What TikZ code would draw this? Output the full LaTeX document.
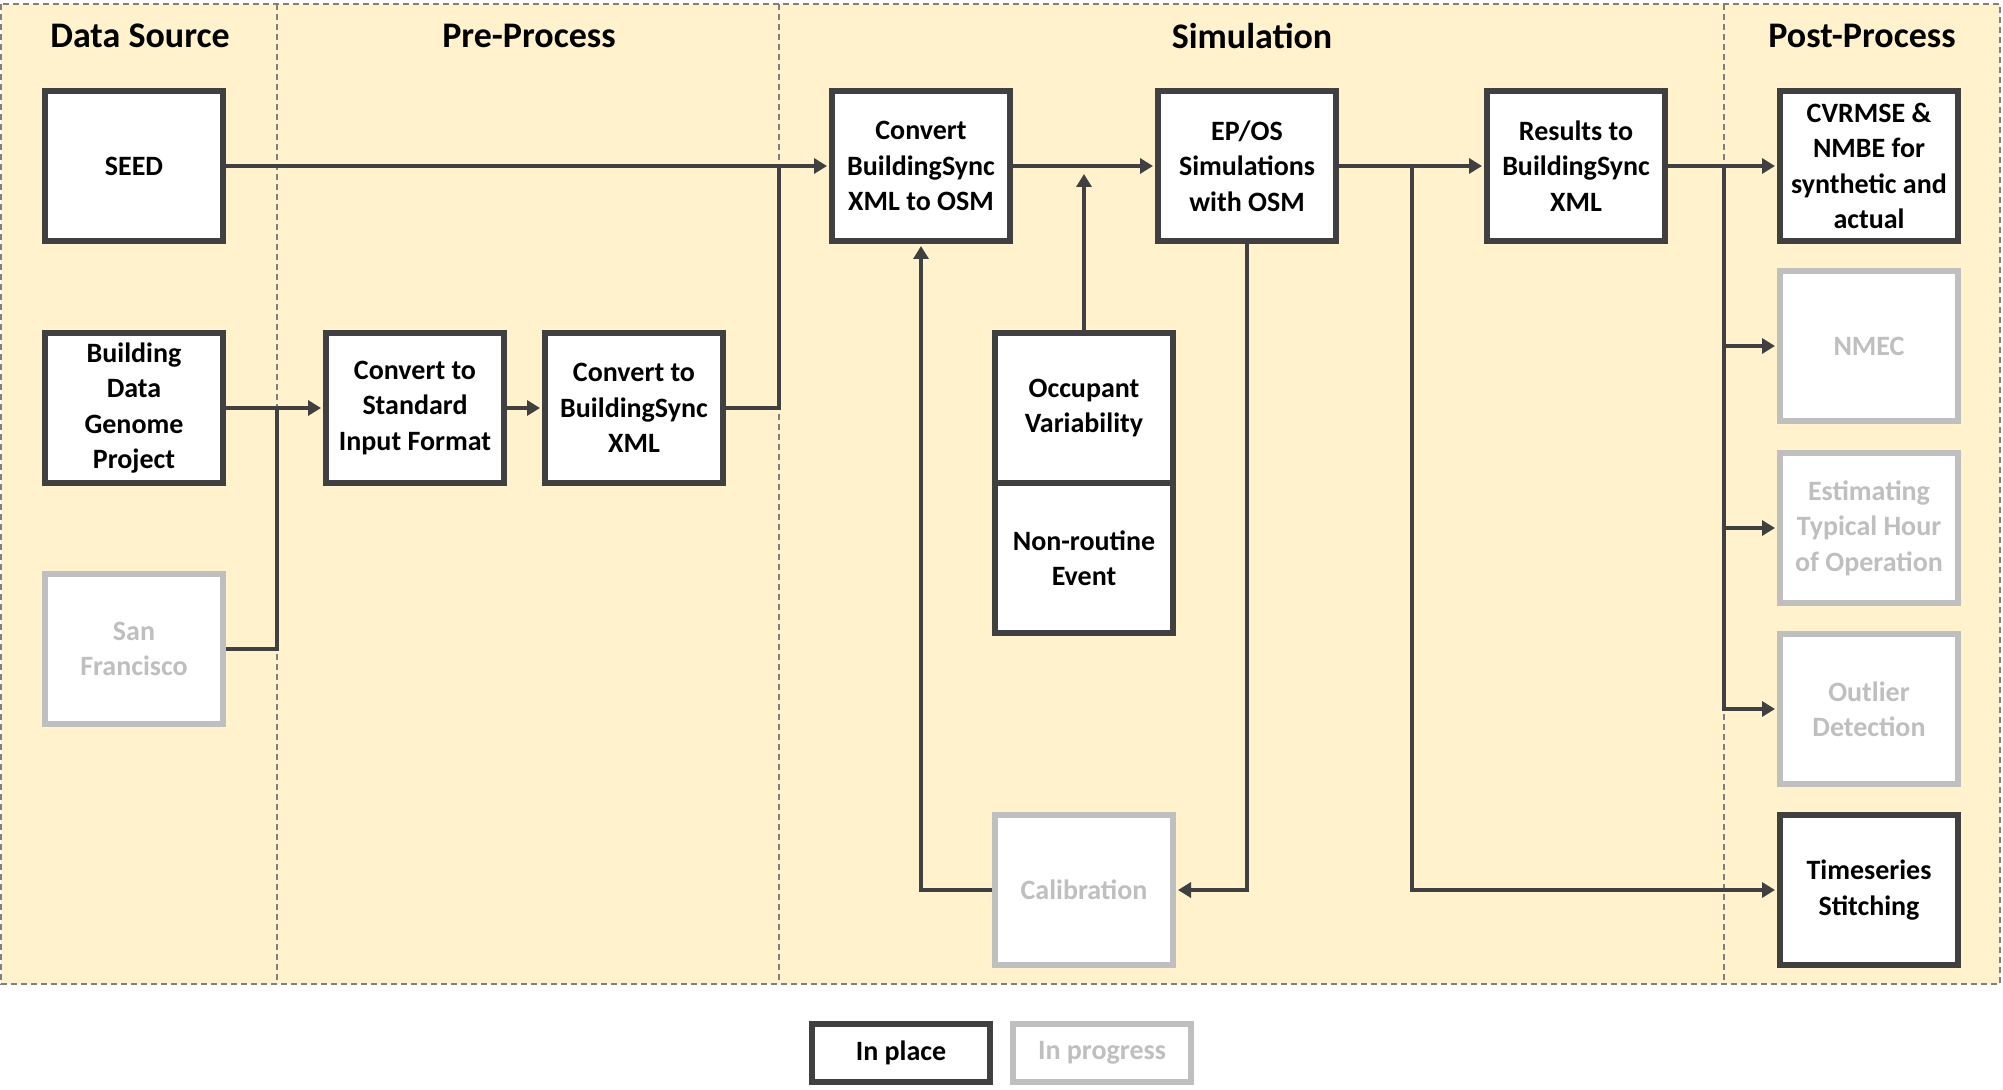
\documentclass[tikz,border=0pt]{standalone}
\usepackage{fontspec}
\setmainfont{Carlito}
\usetikzlibrary{arrows.meta}

\definecolor{panel}{HTML}{FFF2CC}
\definecolor{ink}{HTML}{404040}
\definecolor{pending}{HTML}{BFBFBF}
\definecolor{rule}{HTML}{808080}

\tikzset{
  stage/.style={draw=ink, line width=3pt, fill=white, minimum width=89pt, minimum height=75pt,
    align=center, inner sep=2pt, font=\fontsize{14}{17.7}\selectfont\bfseries},
  pendingstage/.style={stage, draw=pending, text=pending},
  link/.style={draw=ink, line width=2.4pt, -{Triangle[length=6.5pt,width=7.5pt]}, shorten >=1pt},
  wire/.style={draw=ink, line width=2.4pt},
  title/.style={font=\fontsize{18}{22}\selectfont\bfseries},
  divider/.style={draw=rule, line width=0.75pt, dash pattern=on 3pt off 2pt}
}

\begin{document}
\begin{tikzpicture}[x=0.5pt, y=-0.5pt]

\useasboundingbox (0,0) rectangle (2003,1090);

% background and columns
\fill [panel] (1,4) rectangle (2000,984);
\draw [divider] (1,4) rectangle (2000,984);
\draw [divider] (277,4) -- (277,984);
\draw [divider] (779,4) -- (779,984);
\draw [divider] (1724,4) -- (1724,984);

\node [title] (tdata) at (140,36) {Data Source};
\node [title] (tpre) at (529,36) {Pre-Process};
\node [title] (tsim) at (1252,36) {Simulation};
\node [title] (tpost) at (1862,36) {Post-Process};

% data sources
\node [stage] (seed) at (134,166) {SEED};
\node [stage] (bdg) at (134,408) {Building\\Data\\Genome\\Project};
\node [pendingstage] (sf) at (134,649) {San\\Francisco};

% pre-process
\node [stage] (std) at (415,408) {Convert to\\Standard\\Input Format};
\node [stage] (bsx) at (634,408) {Convert to\\BuildingSync\\XML};

% simulation
\node [stage] (osm) at (921,166) {Convert\\BuildingSync\\XML to OSM};
\node [stage] (epos) at (1247,166) {EP/OS\\Simulations\\with OSM};
\node [stage] (res) at (1576,166) {Results to\\BuildingSync\\XML};
\node [stage] (occ) at (1084,408) {Occupant\\Variability};
\node [stage] (nre) at (1084,558) {Non-routine\\Event};
\node [pendingstage] (cal) at (1084,890) {Calibration};

% post-process
\node [stage] (cvr) at (1869,166) {CVRMSE \&\\NMBE for\\synthetic and\\actual};
\node [pendingstage] (nmec) at (1869,346) {NMEC};
\node [pendingstage] (est) at (1869,528) {Estimating\\Typical Hour\\of Operation};
\node [pendingstage] (out) at (1869,709) {Outlier\\Detection};
\node [stage] (ts) at (1869,890) {Timeseries\\Stitching};

% legend
\node [stage, minimum height=28.75pt] (inplace) at (901,1053) {In place};
\node [pendingstage, minimum height=28.75pt] (inprog) at (1102,1053) {In progress};

% connectors
\coordinate (jn1) at (277,408);
\coordinate (jn2) at (779,166);
\coordinate (jn3) at (1412,166);
\coordinate (jn4) at (1724,166);

\draw [link] (seed.east) -- (osm.west);
\draw [link] (bdg.east) -- (std.west);
\draw [wire] (sf.east) -| (jn1);
\draw [link] (std.east) -- (bsx.west);
\draw [wire] (bsx.east) -| (jn2);
\draw [link] (osm.east) -- (epos.west);
\draw [link, shorten >=4pt] (occ.north) -- (occ.north |- osm.east);
\draw [link] (epos.south) |- (cal.east);
\draw [link] (cal.west) -| (osm.south);
\draw [link] (epos.east) -- (res.west);
\draw [link] (jn3) |- (ts.west);
\draw [link] (res.east) -- (cvr.west);
\draw [link] (jn4) |- (nmec.west);
\draw [link] (jn4) |- (est.west);
\draw [link] (jn4) |- (out.west);

\end{tikzpicture}
\end{document}
